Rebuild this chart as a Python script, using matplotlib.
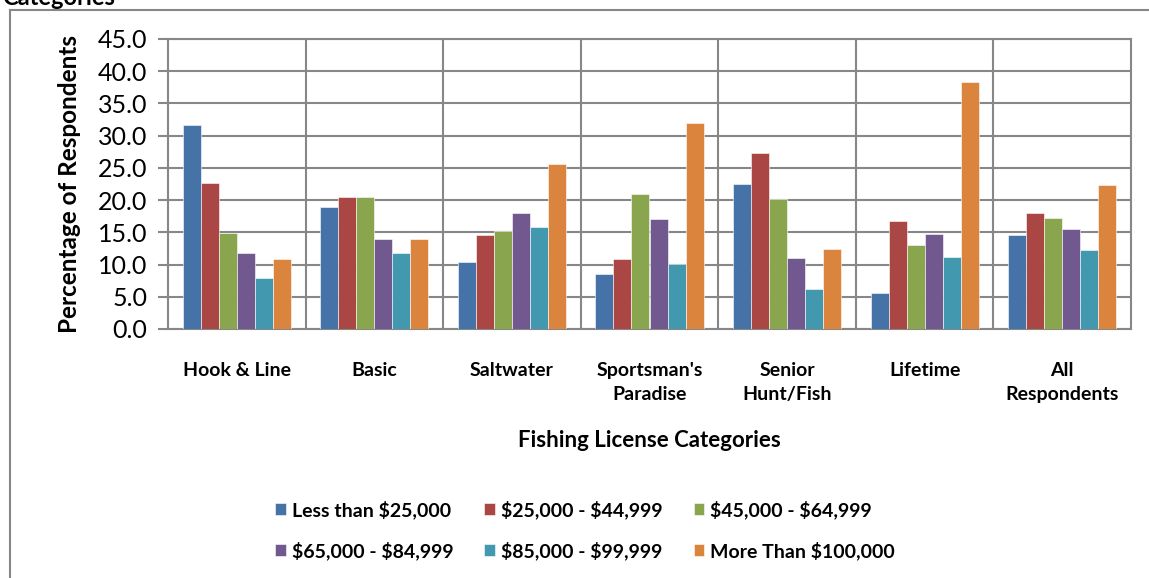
import numpy as np
import matplotlib.pyplot as plt
from matplotlib.patches import Rectangle

plt.rcParams['font.family'] = ['Lato', 'DejaVu Sans']

categories = ["Hook & Line", "Basic", "Saltwater", "Sportsman's\nParadise",
              "Senior\nHunt/Fish", "Lifetime", "All\nRespondents"]
series = [r"Less than \$25,000", r"\$25,000 - \$44,999", r"\$45,000 - \$64,999",
          r"\$65,000 - \$84,999", r"\$85,000 - \$99,999", r"More Than \$100,000"]
less_25k   = [31.6, 19.0, 10.4,  8.6, 22.5,  5.6, 14.6]
k25_45     = [22.7, 20.5, 14.6, 10.8, 27.3, 16.7, 18.0]
k45_65     = [14.9, 20.5, 15.2, 21.0, 20.2, 13.0, 17.2]
k65_85     = [11.8, 13.9, 18.0, 17.1, 11.0, 14.8, 15.5]
k85_100    = [ 7.9, 11.8, 15.8, 10.1,  6.2, 11.1, 12.3]
more_100k  = [10.8, 13.9, 25.6, 31.9, 12.4, 38.4, 22.3]
values = [less_25k, k25_45, k45_65, k65_85, k85_100, more_100k]
colors = ["#4572A7", "#AA4643", "#89A54E", "#71588F", "#4198AF", "#DB843D"]

W, H = 1149, 578
fig = plt.figure(figsize=(W / 100, H / 100), dpi=100)
ax = fig.add_axes([168 / W, 1 - 329 / H, (1131 - 168) / W, (329 - 39) / H])

# outer chart border (cut off at right/bottom)
fig.patches.append(Rectangle((10 / W, -0.1), 1.2, 1 - 10 / H + 0.1,
                             transform=fig.transFigure, fill=False,
                             edgecolor="#878787", lw=1.5))
fig.text(2 / W, 1 - 5 / H, "Categories", fontsize=17, fontweight="bold",
         va="baseline", ha="left")

x = np.arange(len(categories))
w = 0.131
for j, (vals, c) in enumerate(zip(values, colors)):
    ax.bar(x + (j - 2.5) * w, vals, width=w, color=c, label=series[j],
           edgecolor="white", linewidth=0.4, zorder=3)

ax.set_xlim(-0.5, len(categories) - 0.5)
ax.set_ylim(0, 45)
ax.set_yticks(np.arange(0, 46, 5))
ax.set_yticklabels([f"{v:.1f}" for v in np.arange(0, 46, 5)], fontsize=18)
ax.set_xticks(x)
ax.set_xticklabels(categories, fontsize=14, fontweight="bold", linespacing=1.45)
ax.set_xticks(np.arange(0.5, len(categories) - 1, 1), minor=True)
ax.tick_params(axis="x", which="both", length=0, pad=24)
ax.tick_params(axis="y", length=7, color="#878787", width=1.5, pad=8)
ax.grid(True, which="major", axis="y", color="#878787", lw=1.5, zorder=0)
ax.grid(True, which="minor", axis="x", color="#878787", lw=1.5, zorder=0)
for s in ax.spines.values():
    s.set_color("#878787")
    s.set_linewidth(1.5)

ax.set_ylabel("Percentage of Respondents", fontsize=17.5, fontweight="bold",
              labelpad=12)
ax.set_xlabel("Fishing License Categories", fontsize=16, fontweight="bold",
              labelpad=20)

handles, labels = ax.get_legend_handles_labels()
order = [0, 3, 1, 4, 2, 5]
fig.legend([handles[i] for i in order], [labels[i] for i in order], ncol=3,
           loc="center", frameon=False,
           bbox_to_anchor=(585 / W, 1 - 530 / H),
           prop={"weight": "bold", "size": 14},
           handlelength=0.55, handleheight=0.55, handletextpad=0.3,
           columnspacing=1.6, labelspacing=1.15)

fig.savefig("out.png", dpi=100)
